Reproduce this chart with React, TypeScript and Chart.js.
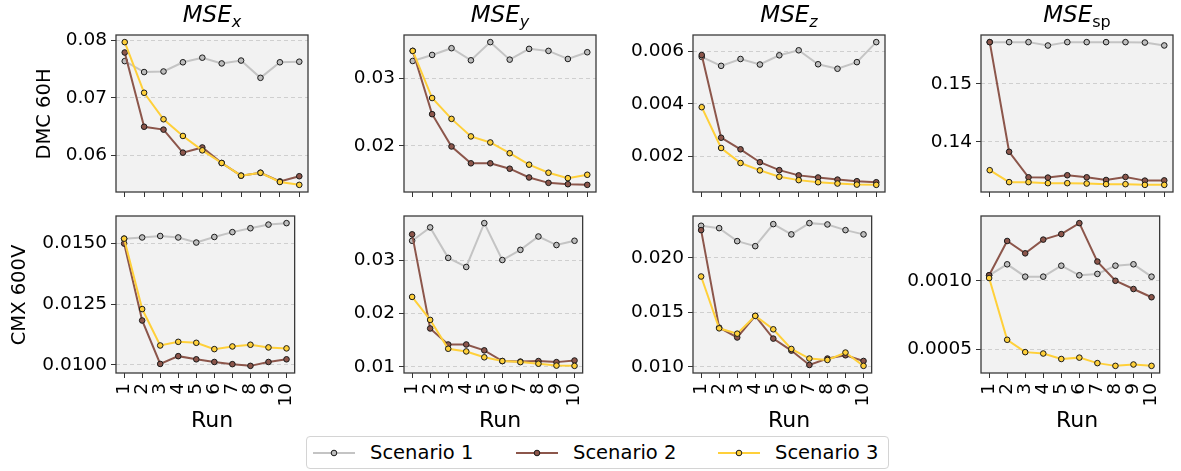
import React, { useEffect, useRef } from 'react';
import { Chart, registerables } from 'chart.js';

Chart.register(...registerables);

// ---------------- DATA ----------------
const runs = [1, 2, 3, 4, 5, 6, 7, 8, 9, 10];
const scenarioNames = ['Scenario 1', 'Scenario 2', 'Scenario 3'];
const rowLabels = ['DMC 60H', 'CMX 600V'];
const colTitles = ['x', 'y', 'z', 'sp'];

// DMC 60H
const dmcMseX_s1 = [0.0764, 0.0745, 0.0746, 0.0762, 0.0770, 0.0760, 0.0765, 0.0735, 0.0762, 0.0763];
const dmcMseX_s2 = [0.0779, 0.0650, 0.0645, 0.0605, 0.0614, 0.0587, 0.0565, 0.0570, 0.0555, 0.0564];
const dmcMseX_s3 = [0.0797, 0.0709, 0.0663, 0.0634, 0.0609, 0.0587, 0.0565, 0.0570, 0.0554, 0.0549];

const dmcMseY_s1 = [0.0326, 0.0335, 0.0345, 0.0327, 0.0354, 0.0328, 0.0344, 0.0341, 0.0329, 0.0339];
const dmcMseY_s2 = [0.0341, 0.0247, 0.0199, 0.0174, 0.0174, 0.0166, 0.0153, 0.0145, 0.0143, 0.0142];
const dmcMseY_s3 = [0.0341, 0.0271, 0.0240, 0.0214, 0.0205, 0.0189, 0.0172, 0.0160, 0.0152, 0.0157];

const dmcMseZ_s1 = [0.00578, 0.00544, 0.00570, 0.00549, 0.00584, 0.00603, 0.00550, 0.00533, 0.00558, 0.00634];
const dmcMseZ_s2 = [0.00585, 0.00271, 0.00227, 0.00178, 0.00148, 0.00128, 0.00120, 0.00112, 0.00106, 0.00102];
const dmcMseZ_s3 = [0.00387, 0.00232, 0.00175, 0.00147, 0.00123, 0.00110, 0.00102, 0.00097, 0.00093, 0.00092];

const dmcMseSp_s1 = [0.15717, 0.15717, 0.15717, 0.15659, 0.15717, 0.15717, 0.15717, 0.15717, 0.1571, 0.1566];
const dmcMseSp_s2 = [0.15717, 0.13832, 0.13393, 0.13388, 0.13428, 0.13393, 0.13347, 0.13399, 0.13336, 0.1334];
const dmcMseSp_s3 = [0.13515, 0.1331, 0.1331, 0.13292, 0.13292, 0.13286, 0.13275, 0.13275, 0.13263, 0.13263];

// CMX 600V
const cmxMseX_s1 = [0.0152, 0.01525, 0.01531, 0.01525, 0.01504, 0.01527, 0.01547, 0.01563, 0.01578, 0.01584];
const cmxMseX_s2 = [0.0150, 0.01183, 0.01004, 0.01036, 0.01023, 0.01012, 0.01003, 0.00996, 0.01012, 0.01023];
const cmxMseX_s3 = [0.0152, 0.0123, 0.0108, 0.01095, 0.01091, 0.01065, 0.01076, 0.01083, 0.01072, 0.01068];

const cmxMseY_s1 = [0.0336, 0.0361, 0.0304, 0.0287, 0.0369, 0.0300, 0.0319, 0.0344, 0.0328, 0.0336];
const cmxMseY_s2 = [0.0348, 0.0172, 0.0142, 0.0142, 0.0131, 0.0111, 0.0110, 0.0111, 0.0109, 0.0112];
const cmxMseY_s3 = [0.0231, 0.0188, 0.0134, 0.0129, 0.0118, 0.0111, 0.0109, 0.0106, 0.01025, 0.0102];

const cmxMseZ_s1 = [0.02294, 0.02272, 0.02153, 0.02107, 0.02309, 0.02215, 0.02318, 0.02306, 0.02254, 0.02215];
const cmxMseZ_s2 = [0.02254, 0.0136, 0.0127, 0.01468, 0.0126, 0.0115, 0.01018, 0.01077, 0.01107, 0.01055];
const cmxMseZ_s3 = [0.01829, 0.01354, 0.01305, 0.01468, 0.01345, 0.01165, 0.01077, 0.01064, 0.01132, 0.0101];

const cmxMseSp_s1 = [0.00104, 0.00112, 0.00103, 0.00103, 0.00111, 0.00104, 0.00105, 0.00111, 0.00112, 0.00103];
const cmxMseSp_s2 = [0.00104, 0.00129, 0.0012, 0.0013, 0.00134, 0.00142, 0.00114, 0.001, 0.00094, 0.00088];
const cmxMseSp_s3 = [0.00102, 0.00057, 0.00048, 0.00047, 0.00043, 0.00044, 0.0004, 0.00038, 0.00039, 0.00038];

// y tick values per panel
const yTicksDmcX = [0.06, 0.07, 0.08];
const yTicksDmcY = [0.02, 0.03];
const yTicksDmcZ = [0.002, 0.004, 0.006];
const yTicksDmcSp = [0.14, 0.15];
const yTicksCmxX = [0.01, 0.0125, 0.015];
const yTicksCmxY = [0.01, 0.02, 0.03];
const yTicksCmxZ = [0.01, 0.015, 0.02];
const yTicksCmxSp = [0.0005, 0.001];

const yDecimals = [
  [2, 2, 3, 2],
  [4, 2, 3, 4],
];

// ---------------- STYLE / LAYOUT ----------------
const FONT = "'DejaVu Sans', 'Liberation Sans', sans-serif";
const lineColors = ['#c4c4c4', '#8c564b', '#ffd03a'];
const markerColors = ['#bdbdbd', '#8c564b', '#ffd03a'];
const markerEdge = '#1a1a1a';

const PLOT_LEFTS = [116, 404, 693, 981];
const PLOT_TOPS = [35, 216];
const PW = 192;
const PH = 157;
const Y_W = 84;
const X_H = 44;
const PAD_T = 20;
const PAD_R = 6;

type PanelDef = {
  row: number;
  col: number;
  series: number[][];
  yTicks: number[];
};

const panels: PanelDef[] = [
  { row: 0, col: 0, series: [dmcMseX_s1, dmcMseX_s2, dmcMseX_s3], yTicks: yTicksDmcX },
  { row: 0, col: 1, series: [dmcMseY_s1, dmcMseY_s2, dmcMseY_s3], yTicks: yTicksDmcY },
  { row: 0, col: 2, series: [dmcMseZ_s1, dmcMseZ_s2, dmcMseZ_s3], yTicks: yTicksDmcZ },
  { row: 0, col: 3, series: [dmcMseSp_s1, dmcMseSp_s2, dmcMseSp_s3], yTicks: yTicksDmcSp },
  { row: 1, col: 0, series: [cmxMseX_s1, cmxMseX_s2, cmxMseX_s3], yTicks: yTicksCmxX },
  { row: 1, col: 1, series: [cmxMseY_s1, cmxMseY_s2, cmxMseY_s3], yTicks: yTicksCmxY },
  { row: 1, col: 2, series: [cmxMseZ_s1, cmxMseZ_s2, cmxMseZ_s3], yTicks: yTicksCmxZ },
  { row: 1, col: 3, series: [cmxMseSp_s1, cmxMseSp_s2, cmxMseSp_s3], yTicks: yTicksCmxSp },
];

const framePlugin = {
  id: 'framePlugin',
  beforeDraw(chart: any) {
    const { ctx, chartArea } = chart;
    const { left, top, right, bottom } = chartArea;
    ctx.save();
    ctx.fillStyle = '#f2f2f2';
    ctx.fillRect(left, top, right - left, bottom - top);
    ctx.restore();
  },
  afterDraw(chart: any) {
    const { ctx, chartArea } = chart;
    const { left, top, right, bottom } = chartArea;
    ctx.save();
    ctx.strokeStyle = '#3a3a3a';
    ctx.lineWidth = 1.3;
    ctx.strokeRect(left, top, right - left, bottom - top);
    ctx.restore();
  },
};

function Panel({ p }: { p: PanelDef }) {
  const ref = useRef<HTMLCanvasElement>(null);
  const width = Y_W + PW + PAD_R;
  const height = PAD_T + PH + X_H;
  useEffect(() => {
    if (!ref.current) return;
    const all = p.series.flat();
    const lo = Math.min(...all);
    const hi = Math.max(...all);
    const m = (hi - lo) * 0.05;
    const dec = yDecimals[p.row][p.col];
    const tickFont = { family: FONT, size: 18.5 };
    const chart = new Chart(ref.current, {
      type: 'line',
      data: {
        datasets: p.series.map((vals, i) => ({
          label: scenarioNames[i],
          data: vals.map((v, j) => ({ x: runs[j], y: v })),
          borderColor: lineColors[i],
          backgroundColor: markerColors[i],
          pointBackgroundColor: markerColors[i],
          pointBorderColor: markerEdge,
          pointBorderWidth: 1,
          pointRadius: 2.8,
          borderWidth: 2,
          tension: 0,
          fill: false,
          order: 3 - i,
        })),
      },
      options: {
        responsive: false,
        animation: false,
        events: [],
        layout: { padding: { top: PAD_T, right: PAD_R, left: 0, bottom: 0 } },
        plugins: { legend: { display: false }, tooltip: { enabled: false }, title: { display: false } },
        scales: {
          x: {
            type: 'linear',
            min: 0.55,
            max: 10.45,
            afterBuildTicks: (s: any) => {
              s.ticks = runs.map((v) => ({ value: v }));
            },
            afterFit: (s: any) => {
              s.height = X_H;
            },
            ticks: {
              display: p.row === 1,
              autoSkip: false,
              minRotation: 90,
              maxRotation: 90,
              padding: 5,
              color: '#000',
              font: tickFont,
              callback: (v: any) => String(v),
            },
            grid: {
              drawOnChartArea: false,
              drawTicks: true,
              tickLength: 5,
              tickColor: '#333',
              tickWidth: 1,
            },
            border: { display: false },
          },
          y: {
            type: 'linear',
            min: lo - m,
            max: hi + m,
            afterBuildTicks: (s: any) => {
              s.ticks = p.yTicks.map((v) => ({ value: v }));
            },
            afterFit: (s: any) => {
              s.width = Y_W;
            },
            ticks: {
              padding: 4,
              color: '#000',
              font: tickFont,
              callback: (v: any) => Number(v).toFixed(dec),
            },
            grid: {
              color: '#cfcfcf',
              lineWidth: 1,
              drawTicks: true,
              tickLength: 5,
              tickColor: '#333',
              tickWidth: 1,
            },
            border: { display: false, dash: [4, 3] },
          },
        },
      },
      plugins: [framePlugin],
    } as any);
    return () => chart.destroy();
  }, [p]);
  return (
    <canvas
      ref={ref}
      width={width}
      height={height}
      style={{
        position: 'absolute',
        left: PLOT_LEFTS[p.col] - Y_W,
        top: PLOT_TOPS[p.row] - PAD_T,
        width,
        height,
      }}
    />
  );
}

function LegendHandle({ i }: { i: number }) {
  return (
    <svg width={42} height={12} style={{ position: 'absolute', left: 0, top: -6 }}>
      <line x1={0} y1={6} x2={42} y2={6} stroke={lineColors[i]} strokeWidth={2} />
      <circle cx={21} cy={6} r={2.8} fill={markerColors[i]} stroke={markerEdge} strokeWidth={1} />
    </svg>
  );
}

export default function App() {
  useEffect(() => {
    document.body.style.margin = '0';
  }, []);
  const legendHandleX = [313, 516, 718];
  const legendTextX = [370, 573, 775];
  return (
    <div style={{ position: 'relative', width: 1181, height: 471, background: '#fff', fontFamily: FONT, overflow: 'hidden' }}>
      {panels.map((p, k) => (
        <Panel key={k} p={p} />
      ))}
      {colTitles.map((t, c) => (
        <div
          key={'t' + c}
          style={{
            position: 'absolute',
            left: PLOT_LEFTS[c] + PW / 2,
            top: 3,
            transform: 'translateX(-50%)',
            fontSize: 23,
            lineHeight: '23px',
            whiteSpace: 'nowrap',
            color: '#000',
          }}
        >
          <span style={{ fontStyle: 'italic' }}>MSE</span>
          <span style={{ fontSize: 16, fontStyle: t === 'sp' ? 'normal' : 'italic', position: 'relative', top: 5 }}>{t}</span>
        </div>
      ))}
      {rowLabels.map((t, r) => (
        <div
          key={'r' + r}
          style={{
            position: 'absolute',
            left: r === 0 ? 44 : 19,
            top: PLOT_TOPS[r] + PH / 2,
            transform: 'translate(-50%, -50%) rotate(-90deg)',
            fontSize: 19.5,
            lineHeight: '20px',
            whiteSpace: 'nowrap',
            color: '#000',
          }}
        >
          {t}
        </div>
      ))}
      {PLOT_LEFTS.map((l, c) => (
        <div
          key={'run' + c}
          style={{
            position: 'absolute',
            left: l + PW / 2,
            top: 420,
            transform: 'translate(-50%, -50%)',
            fontSize: 22,
            lineHeight: '22px',
            whiteSpace: 'nowrap',
            color: '#000',
          }}
        >
          Run
        </div>
      ))}
      <div
        style={{
          position: 'absolute',
          left: 306,
          top: 436,
          width: 583,
          height: 33,
          border: '1px solid #d4d4d4',
          borderRadius: 4,
          boxSizing: 'border-box',
          background: '#fff',
        }}
      />
      {scenarioNames.map((n, i) => (
        <React.Fragment key={'lg' + i}>
          <div style={{ position: 'absolute', left: legendHandleX[i], top: 453 }}>
            <LegendHandle i={i} />
          </div>
          <div
            style={{
              position: 'absolute',
              left: legendTextX[i],
              top: 453,
              transform: 'translateY(-50%)',
              fontSize: 19.5,
              lineHeight: '20px',
              whiteSpace: 'nowrap',
              color: '#000',
            }}
          >
            {n}
          </div>
        </React.Fragment>
      ))}
    </div>
  );
}
